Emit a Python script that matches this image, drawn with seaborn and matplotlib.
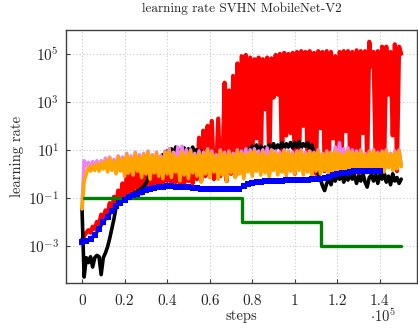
import numpy as np
import matplotlib
matplotlib.use("Agg")
import matplotlib.pyplot as plt
import seaborn as sns
from matplotlib.ticker import FixedLocator, NullLocator, LogFormatterMathtext

sns.set_style("ticks")
plt.rcParams["font.family"] = ["cmr10", "DejaVu Serif"]
plt.rcParams["mathtext.fontset"] = "cm"
plt.rcParams["axes.unicode_minus"] = False
plt.rcParams["axes.formatter.use_mathtext"] = True

# --- data: learning rate, one value every 1000 steps ---
steps = np.arange(0, 150001, 1000)

black_lr = [0.035, 5e-5, 3.2e-4, 2.0e-4, 3.5e-4, 1.3e-4, 3.2e-4, 4.0e-4, 3.5e-4, 6.3e-5,
            3.2e-4, 5e-4, 9e-4, 2e-3, 5e-3, 0.013, 0.04, 0.07, 0.08, 0.085,
            0.09, 0.1, 0.11, 0.13, 0.15, 0.17, 0.19, 0.21, 0.25, 0.3,
            0.4, 0.6, 1.0, 1.6, 2.5, 3.2, 4.0, 5.0, 6.3, 5.0,
            8.9, 6.3, 11, 5.6, 13, 7.1, 10, 6.3, 12, 7.9,
            11, 6.3, 13, 7.1, 10, 5.6, 8.9, 4.0, 5.0, 3.2,
            4.0, 2.5, 3.5, 2.0, 4.0, 2.8, 3.2, 2.2, 4.0, 2.5,
            3.5, 2.0, 4.5, 2.8, 4.0, 3.2, 5.6, 4.0, 8.9, 11,
            14, 8.9, 16, 10, 14, 8.9, 13, 11, 16, 10,
            18, 11, 16, 12, 20, 11, 18, 13, 20, 12,
            20, 13, 22, 12, 18, 14, 20, 11, 16, 8.0,
            3.2, 1.0, 0.6, 0.32, 0.2, 0.4, 0.6, 0.35, 0.8, 0.5,
            0.9, 0.6, 1.0, 0.45, 0.8, 0.55, 1.0, 0.6, 0.9, 0.4,
            0.8, 0.5, 1.1, 0.45, 0.28, 0.7, 0.9, 0.5, 1.0, 0.4,
            0.9, 0.6, 1.1, 0.45, 0.8, 0.35, 1.0, 0.5, 0.7, 0.4,
            0.6]

red_lr = [1.8e-3, 2.5e-3, 3.5e-3, 4.5e-3, 3.5e-3, 6.3e-3, 5e-3, 0.01, 0.008, 0.02,
          0.012, 0.03, 0.02, 0.06, 0.025, 0.11, 0.05, 0.2, 0.07, 0.4,
          0.1, 0.8, 0.15, 1.1, 0.2, 2.0, 0.25, 1.6, 0.15, 2.5,
          0.3, 2.0, 0.35, 3.2, 0.25, 2.5, 0.4, 4.0, 0.3, 3.2,
          0.5, 5.0, 0.35, 4.0, 0.45, 6.3, 0.4, 5.0, 0.3, 7.9,
          0.5, 6.3, 0.4, 10, 0.6, 32, 0.5, 63, 0.8, 100,
          1.0, 160, 0.6, 1.0, 200, 0.8, 1.3, 6300, 0.5, 3000,
          1.0, 1.2e4, 0.8, 4e4, 1.3, 8e4, 1.0, 9e4, 2.0, 7e4,
          1.3, 6e4, 30, 7e4, 2.5, 6e4, 500, 7e4, 1.6, 6.5e4,
          1500, 9e4, 2000, 1e5, 1.3, 1.1e5, 40, 1e5, 50, 1.1e5,
          1.0, 1.2e5, 2.0, 1.3e5, 100, 1.2e5, 1.3, 1.3e5, 2.5, 1.1e5,
          1.0, 1.3e5, 80, 1.2e5, 1.3, 1.3e5, 2.0, 1.2e5, 30, 8e4,
          1.6, 1.2e5, 2.5, 1.3e5, 60, 1.3e5, 1.3, 1.2e5, 1.6, 1.4e5,
          1.0, 1.3e5, 50, 1.3e5, 1.3, 3.2e5, 3e4, 1.2e5, 1.6, 1.3e5,
          1.3, 2e5, 2.0, 2e5, 2000, 1.2e5, 40, 2.5e5, 1.3, 2e5,
          1e5]

violet_lr = [0.035, 3.5, 2.2, 3.0, 1.8, 3.2, 2.0, 3.5, 1.6, 3.5,
             2.0, 4.5, 1.6, 5.0, 1.8, 4.0, 1.3, 5.6, 1.6, 5.0,
             1.0, 7.1, 1.3, 5.6, 1.1, 7.9, 1.6, 6.3, 1.0, 7.1,
             1.3, 8.9, 0.8, 6.3, 1.3, 7.9, 1.0, 5.6, 0.8, 8.9,
             1.3, 11, 0.9, 7.9, 1.4, 13, 0.8, 14, 1.1, 10,
             0.8, 10, 1.3, 7.1, 1.0, 8.9, 0.6, 7.9, 1.3, 11,
             0.9, 8.9, 1.4, 6.3, 0.8, 10, 1.1, 7.9, 0.7, 8.9,
             1.3, 7.1, 0.9, 10, 1.3, 8.9, 0.8, 11, 1.4, 10,
             1.0, 11, 1.6, 8.9, 1.1, 10, 1.3, 12, 0.9, 10,
             1.6, 8.9, 1.1, 7.9, 1.4, 10, 1.0, 8.9, 1.6, 7.9,
             1.3, 8.9, 1.6, 10, 1.1, 7.9, 1.4, 8.9, 1.0, 7.9,
             1.6, 10, 1.3, 7.1, 1.6, 8.9, 1.1, 7.9, 1.4, 13,
             1.3, 20, 1.8, 11, 1.3, 12, 1.6, 10, 1.8, 8.9,
             1.4, 10, 1.6, 7.1, 1.3, 8.9, 1.8, 10, 1.6, 7.9,
             1.8, 8.9, 1.4, 10, 2.0, 7.1, 1.6, 8.9, 1.8, 10,
             2.2]

orange_lr = [0.035, 0.5, 1.0, 1.8, 1.3, 2.2, 1.4, 2.5, 1.3, 2.8,
             1.6, 3.5, 1.2, 4.5, 1.4, 3.2, 1.0, 5.0, 1.3, 4.0,
             0.8, 6.3, 1.1, 4.5, 0.9, 7.1, 1.3, 5.0, 0.7, 6.3,
             1.0, 7.9, 0.6, 5.6, 1.1, 7.1, 0.8, 4.5, 0.63, 7.9,
             1.0, 8.9, 0.7, 6.3, 1.2, 5.0, 0.5, 7.9, 0.9, 6.3,
             0.63, 8.9, 1.1, 5.6, 0.8, 7.1, 0.45, 6.3, 1.0, 10,
             0.7, 7.1, 1.2, 5.0, 0.6, 8.9, 0.9, 6.3, 0.5, 7.9,
             1.1, 5.6, 0.7, 8.9, 1.0, 7.1, 0.63, 6.3, 1.2, 7.9,
             0.8, 8.9, 1.3, 6.3, 0.9, 7.9, 1.1, 5.6, 0.7, 8.9,
             1.4, 7.1, 0.9, 6.3, 1.2, 8.9, 0.8, 7.9, 1.3, 6.3,
             1.0, 7.9, 1.4, 8.9, 0.9, 6.3, 1.2, 7.9, 0.8, 7.1,
             1.3, 8.9, 1.0, 6.3, 1.4, 7.9, 0.9, 7.1, 1.2, 8.9,
             1.1, 7.1, 1.5, 6.3, 1.0, 8.9, 1.3, 7.9, 1.6, 7.1,
             1.2, 8.9, 1.4, 6.3, 1.1, 7.9, 1.6, 8.9, 1.3, 7.1,
             1.5, 7.9, 1.2, 8.9, 1.8, 6.3, 1.4, 7.9, 1.6, 8.9,
             2.0]

# blue: one marker every 2000 steps, up to 140000
blue_steps = np.arange(0, 140001, 2000)
blue_lr = [1.4e-3, 1.6e-3, 2.0e-3, 2.8e-3, 5.0e-3, 0.010, 0.016, 0.028, 0.045, 0.063,
           0.083, 0.105, 0.126, 0.15, 0.178, 0.21, 0.24, 0.26, 0.28, 0.295,
           0.30, 0.30, 0.295, 0.295, 0.29, 0.275, 0.26, 0.25, 0.24, 0.24,
           0.235, 0.24, 0.24, 0.235, 0.24, 0.224, 0.224, 0.24, 0.32, 0.38,
           0.42, 0.45, 0.47, 0.48, 0.50, 0.50, 0.51, 0.52, 0.54, 0.55,
           0.56, 0.56, 0.575, 0.575, 0.59, 0.60, 0.63, 0.66, 0.76, 0.89,
           1.0, 1.05, 1.12, 1.2, 1.26, 1.26, 1.26, 1.29, 1.29, 1.32, 1.32]

green_steps = [1000, 75000, 112500, 150000]
green_lr = [0.1, 0.01, 0.001, 0.001]

x_ticks = [0, 20000, 40000, 60000, 80000, 100000, 120000, 140000]
x_tick_labels = ["0", "0.2", "0.4", "0.6", "0.8", "1", "1.2", "1.4"]
y_ticks = [1e-3, 1e-1, 1e1, 1e3, 1e5]

# --- figure ---
fig = plt.figure(figsize=(4.18, 3.28), dpi=100)
ax = fig.add_axes([0.158, 0.137, 0.84, 0.772])

lw = 2.6
sns.lineplot(x=steps, y=red_lr, color="red", linewidth=3.0, estimator=None, sort=False, ax=ax)
sns.lineplot(x=steps, y=black_lr, color="black", linewidth=lw, estimator=None, sort=False, ax=ax)
sns.lineplot(x=steps, y=violet_lr, color="violet", linewidth=lw, estimator=None, sort=False, ax=ax)
sns.lineplot(x=steps, y=orange_lr, color="orange", linewidth=lw, estimator=None, sort=False, ax=ax)
sns.lineplot(x=green_steps, y=green_lr, color="green", linewidth=2.4, estimator=None, sort=False,
             drawstyle="steps-post", ax=ax)
sns.lineplot(x=blue_steps, y=blue_lr, color="blue", linewidth=2.4, marker="s", markersize=4.2,
             markeredgewidth=0, estimator=None, sort=False, ax=ax)

ax.set_yscale("log")
ax.set_xlim(-7500, 157500)
ax.set_ylim(2.8e-5, 1e6)
ax.yaxis.set_major_locator(FixedLocator(y_ticks))
ax.yaxis.set_major_formatter(LogFormatterMathtext())
ax.yaxis.set_minor_locator(NullLocator())
ax.set_xticks(x_ticks)
ax.set_xticklabels(x_tick_labels)

ax.grid(True, which="major", color="#c8c8c8", linestyle=(0, (1, 2)), linewidth=0.8)
for s in ax.spines.values():
    s.set_color("#404040")
    s.set_linewidth(1.0)
ax.tick_params(direction="in", length=3, width=0.8, color="#404040", labelsize=11)
ax.tick_params(axis="x", pad=8)
ax.tick_params(axis="y", pad=5)

ax.set_title("learning rate SVHN MobileNet-V2", fontsize=9.5, pad=13)
ax.set_xlabel("steps", fontsize=10.5, labelpad=1)
ax.set_ylabel("learning rate", fontsize=10.5, labelpad=3)
fig.text(0.916, 0.034, r"$\cdot 10^{5}$", fontsize=10.5, ha="center", va="center")

fig.savefig("out.png", dpi=100)
